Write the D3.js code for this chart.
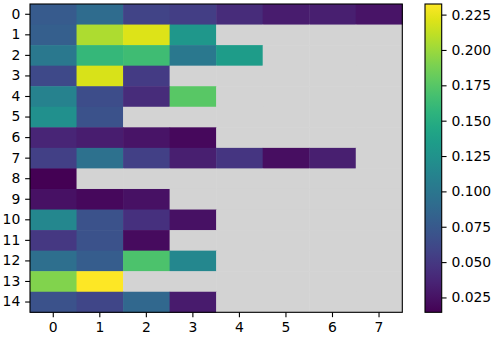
<!DOCTYPE html>
<html>
<head>
<meta charset="utf-8">
<script src="https://cdn.jsdelivr.net/npm/d3@7"></script>
<style>
  body { margin: 0; background: #fff; }
</style>
</head>
<body>
<svg id="chart" width="495" height="340"></svg>
<script>
// rows 0..14, columns 0..7, null = no value (grey)
var rows = d3.range(15);
var cols = d3.range(8);
var row0  = [0.076, 0.091, 0.058, 0.054, 0.041, 0.031, 0.033, 0.026];
var row1  = [0.080, 0.206, 0.221, 0.130, null, null, null, null];
var row2  = [0.102, 0.160, 0.165, 0.102, 0.134, null, null, null];
var row3  = [0.063, 0.219, 0.052, null, null, null, null, null];
var row4  = [0.110, 0.065, 0.041, 0.176, null, null, null, null];
var row5  = [0.123, 0.069, null, null, null, null, null, null];
var row6  = [0.037, 0.032, 0.026, 0.019, null, null, null, null];
var row7  = [0.056, 0.095, 0.056, 0.033, 0.048, 0.023, 0.033, null];
var row8  = [0.0145, null, null, null, null, null, null, null];
var row9  = [0.024, 0.019, 0.024, null, null, null, null, null];
var row10 = [0.115, 0.069, 0.045, 0.024, null, null, null, null];
var row11 = [0.050, 0.069, 0.021, null, null, null, null, null];
var row12 = [0.093, 0.078, 0.171, 0.115, null, null, null, null];
var row13 = [0.191, 0.2325, null, null, null, null, null, null];
var row14 = [0.069, 0.060, 0.087, 0.030, null, null, null, null];
var values = [row0, row1, row2, row3, row4, row5, row6, row7, row8, row9, row10, row11, row12, row13, row14];
var cbarTicks = [0.025, 0.05, 0.075, 0.1, 0.125, 0.15, 0.175, 0.2, 0.225];

var FONT = "13.9px";
var TICK = 4.86;
var LW = 1.1;

var svg = d3.select("#chart");
var plot = { left: 30, top: 4, width: 372.3, height: 308.3 };

var x = d3.scaleBand().domain(cols).range([plot.left, plot.left + plot.width]);
var y = d3.scaleBand().domain(rows).range([plot.top, plot.top + plot.height]);

var allVals = [];
values.forEach(function(r) { r.forEach(function(v) { if (v != null) allVals.push(v); }); });
var ext = d3.extent(allVals);
var color = d3.scaleSequential(d3.interpolateViridis).domain(ext);

// cells
var cells = [];
values.forEach(function(r, i) {
  r.forEach(function(v, j) { cells.push({ row: i, col: j, v: v }); });
});

svg.append("g").selectAll("rect")
  .data(cells)
  .enter().append("rect")
  .attr("x", function(d) { return x(d.col); })
  .attr("y", function(d) { return y(d.row); })
  .attr("width", x.bandwidth() + 0.5)
  .attr("height", y.bandwidth() + 0.5)
  .attr("fill", function(d) { return d.v == null ? "#d3d3d3" : color(d.v); });

function styleAxis(a) {
  a.select(".domain").remove();
  a.attr("font-size", null).attr("font-family", null);
  a.selectAll("line").attr("stroke", "#000").attr("stroke-width", LW);
  a.selectAll("text")
    .attr("fill", "#000")
    .style("font-size", FONT)
    .style("font-family", "'DejaVu Sans', sans-serif");
}

// axes
var xAxis = svg.append("g")
  .attr("transform", "translate(0," + (plot.top + plot.height) + ")")
  .call(d3.axisBottom(x).tickSize(TICK).tickPadding(TICK));
var yAxis = svg.append("g")
  .attr("transform", "translate(" + plot.left + ",0)")
  .call(d3.axisLeft(y).tickSize(TICK).tickPadding(TICK));
styleAxis(xAxis);
styleAxis(yAxis);

svg.append("rect")
  .attr("x", plot.left).attr("y", plot.top)
  .attr("width", plot.width).attr("height", plot.height)
  .attr("fill", "none").attr("stroke", "#000").attr("stroke-width", LW);

// colorbar
var cb = { left: 425, top: 4, width: 16.7, height: 308.3 };
var cy = d3.scaleLinear().domain(ext).range([cb.top + cb.height, cb.top]);

var grad = svg.append("defs").append("linearGradient")
  .attr("id", "cbgrad")
  .attr("x1", 0).attr("y1", 1).attr("x2", 0).attr("y2", 0);
d3.range(0, 1.0001, 0.05).forEach(function(t) {
  grad.append("stop")
    .attr("offset", t)
    .attr("stop-color", d3.interpolateViridis(t));
});

svg.append("rect")
  .attr("x", cb.left).attr("y", cb.top)
  .attr("width", cb.width).attr("height", cb.height)
  .attr("fill", "url(#cbgrad)")
  .attr("stroke", "#000").attr("stroke-width", LW);

var cAxis = svg.append("g")
  .attr("transform", "translate(" + (cb.left + cb.width) + ",0)")
  .call(d3.axisRight(cy).tickValues(cbarTicks).tickFormat(d3.format(".3f")).tickSize(TICK).tickPadding(TICK));
styleAxis(cAxis);
</script>
</body>
</html>
